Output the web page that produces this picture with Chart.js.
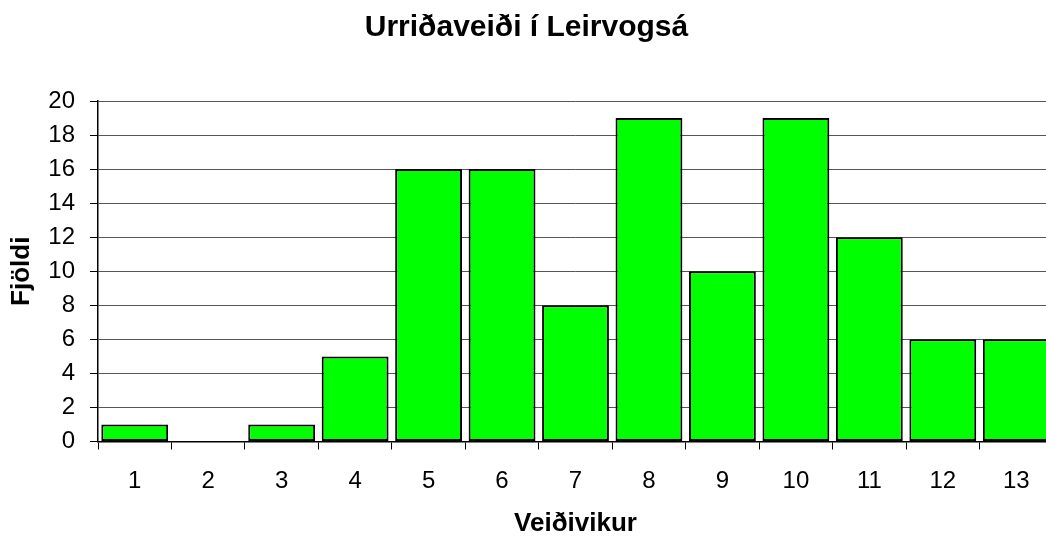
<!DOCTYPE html>
<html>
<head>
<meta charset="utf-8">
<script src="https://cdn.jsdelivr.net/npm/chart.js@4/dist/chart.umd.min.js"></script>
<style>
html,body{margin:0;padding:0;overflow:hidden;background:#fff;}
#wrap{width:1053px;height:539px;position:relative;}
</style>
</head>
<body>
<div id="wrap"><canvas id="c"></canvas></div>
<script>
const categories = ['1','2','3','4','5','6','7','8','9','10','11','12','13'];
const values = [1,0,1,5,16,16,8,19,10,19,12,6,6];
const titleText = 'Urriðaveiði í Leirvogsá';
const xTitle = 'Veiðivikur';
const yTitle = 'Fjöldi';

const FONT = "'Liberation Sans', Arial, sans-serif";

new Chart(document.getElementById('c'), {
  type: 'bar',
  data: {
    labels: categories,
    datasets: [{
      data: values,
      backgroundColor: '#00FF00',
      borderColor: '#000000',
      borderWidth: (ctx) => (ctx.raw === 0 ? 0 : 2),
      borderSkipped: false,
      barPercentage: 0.91,
      categoryPercentage: 1
    }]
  },
  options: {
    responsive: true,
    maintainAspectRatio: false,
    animation: false,
    layout: { padding: { left: 0, right: 0, top: 0, bottom: 0 } },
    plugins: {
      legend: { display: false },
      tooltip: { enabled: false },
      title: {
        display: true,
        text: titleText,
        color: '#000',
        font: { family: FONT, size: 30, weight: 'bold' },
        padding: { top: 10, bottom: 55 }
      }
    },
    scales: {
      x: {
        offset: true,
        afterFit: (s) => { s.height = 97.5; },
        grid: { offset: true, drawOnChartArea: false, drawTicks: true, tickLength: 8, tickColor: '#000', lineWidth: 1 },
        border: { display: true, color: '#000', width: 1.5 },
        ticks: { color: '#000', font: { family: FONT, size: 24 }, padding: 17, maxRotation: 0 },
        title: { display: true, text: xTitle, color: '#000', font: { family: FONT, size: 26, weight: 'bold' }, padding: { top: 0, bottom: 0 } }
      },
      y: {
        min: 0, max: 20,
        afterFit: (s) => { s.width = 98; },
        grid: { color: '#555', lineWidth: 1, drawTicks: true, tickLength: 8, tickColor: '#000' },
        border: { display: true, color: '#000', width: 1.5 },
        ticks: { stepSize: 2, color: '#000', font: { family: FONT, size: 24 }, padding: 15 },
        title: { display: true, text: yTitle, color: '#000', font: { family: FONT, size: 26, weight: 'bold' }, padding: { top: 6, bottom: 0 } }
      }
    }
  }
});
</script>
</body>
</html>
